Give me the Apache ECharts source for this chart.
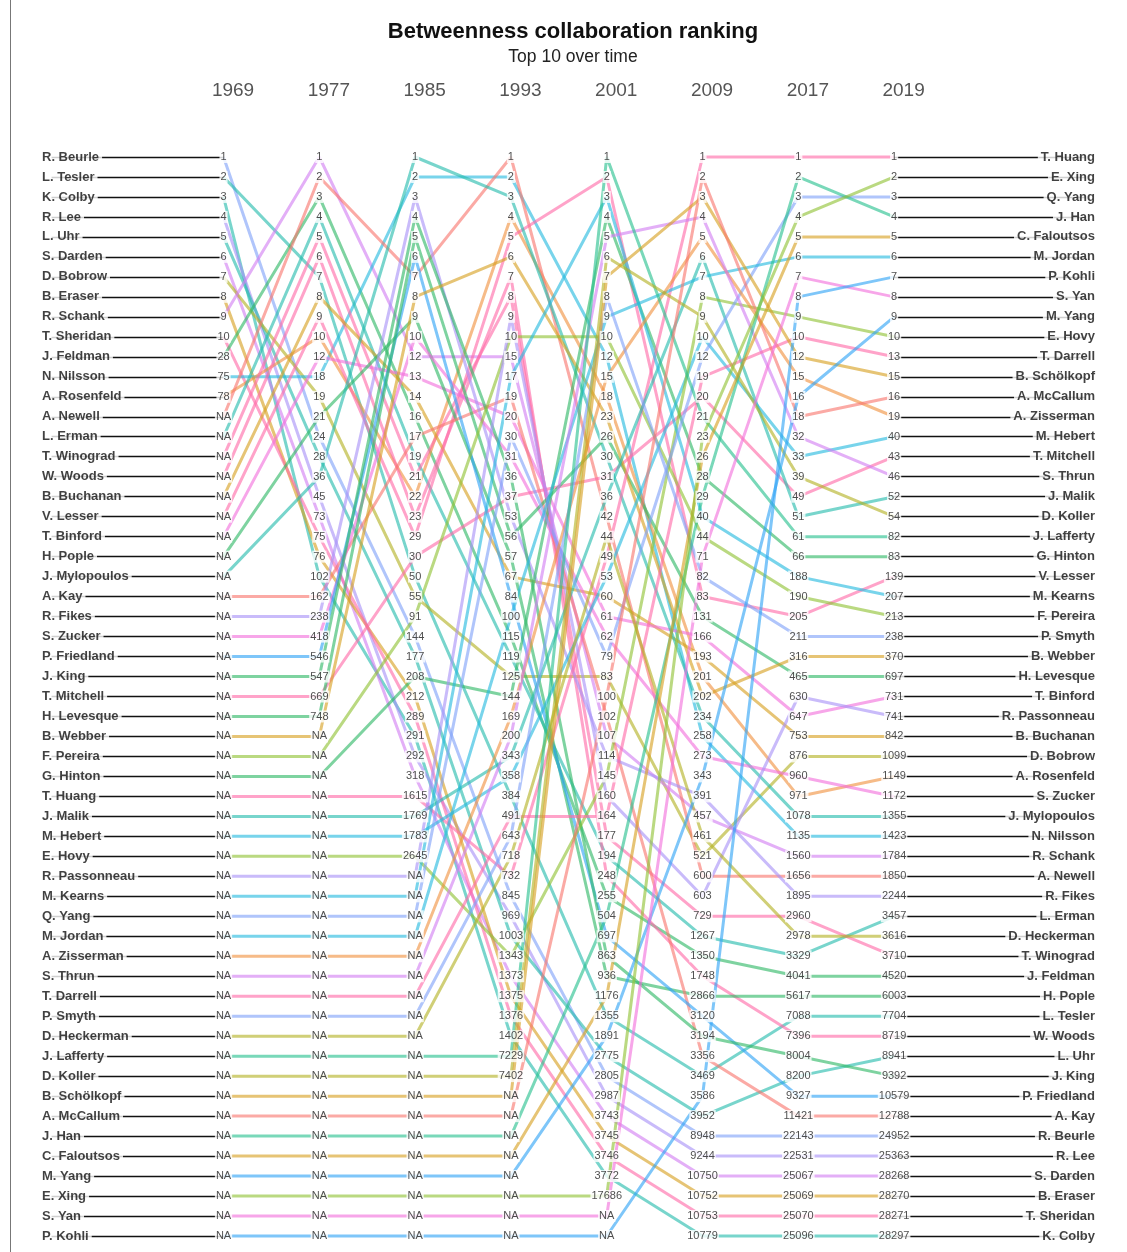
<!DOCTYPE html>
<html>
<head>
<meta charset="utf-8">
<script src="https://cdn.jsdelivr.net/npm/echarts@6/dist/echarts.min.js"></script>
<style>
  html, body { margin: 0; padding: 0; background: #fff; }
  #chart { width: 1127px; height: 1252px; }
</style>
</head>
<body>
<div id="chart"></div>
<script>
// column headers
const years = ['1969', '1977', '1985', '1993', '2001', '2009', '2017', '2019']

// people, in the order of the left-hand list
const names = [
  'R. Beurle', 'L. Tesler', 'K. Colby', 'R. Lee', 'L. Uhr', 'S. Darden', 'D. Bobrow', 'B. Eraser', 'R. Schank', 'T. Sheridan',
  'J. Feldman', 'N. Nilsson', 'A. Rosenfeld', 'A. Newell', 'L. Erman', 'T. Winograd', 'W. Woods', 'B. Buchanan', 'V. Lesser', 'T. Binford',
  'H. Pople', 'J. Mylopoulos', 'A. Kay', 'R. Fikes', 'S. Zucker', 'P. Friedland', 'J. King', 'T. Mitchell', 'H. Levesque', 'B. Webber',
  'F. Pereira', 'G. Hinton', 'T. Huang', 'J. Malik', 'M. Hebert', 'E. Hovy', 'R. Passonneau', 'M. Kearns', 'Q. Yang', 'M. Jordan',
  'A. Zisserman', 'S. Thrun', 'T. Darrell', 'P. Smyth', 'D. Heckerman', 'J. Lafferty', 'D. Koller', 'B. Schölkopf', 'A. McCallum', 'J. Han',
  'C. Faloutsos', 'M. Yang', 'E. Xing', 'S. Yan', 'P. Kohli'
]

const NA = null

// betweenness rank per year, same order as names (NA = not ranked)
const rank1969 = [
  1, 2, 3, 4, 5, 6, 7, 8, 9, 10,
  28, 75, 78, NA, NA, NA, NA, NA, NA, NA,
  NA, NA, NA, NA, NA, NA, NA, NA, NA, NA,
  NA, NA, NA, NA, NA, NA, NA, NA, NA, NA,
  NA, NA, NA, NA, NA, NA, NA, NA, NA, NA,
  NA, NA, NA, NA, NA
]
const rank1977 = [
  24, 7, 102, 45, 28, 73, 19, 76, 1, 75,
  3, 18, 10, 2, 4, 5, 6, 8, 9, 12,
  21, 36, 162, 238, 418, 546, 547, 669, 748, NA,
  NA, NA, NA, NA, NA, NA, NA, NA, NA, NA,
  NA, NA, NA, NA, NA, NA, NA, NA, NA, NA,
  NA, NA, NA, NA, NA
]
const rank1985 = [
  144, 50, 291, 292, 177, 318, 55, 212, 12, 289,
  16, 2, 22, 7, 19, 21, 23, 14, 29, 13,
  9, 1, 17, 3, 10, 6, 4, 30, 5, 8,
  91, 208, 1615, 1769, 1783, 2645, NA, NA, NA, NA,
  NA, NA, NA, NA, NA, NA, NA, NA, NA, NA,
  NA, NA, NA, NA, NA
]
const rank1993 = [
  845, 384, 1402, 969, 1003, 1373, 125, 1375, 15, 1376,
  115, 2, 4, 1, 119, 8, 7, 67, 5, 20,
  57, 3, 19, 53, 31, 84, 36, 37, 56, 6,
  10, 144, 732, 343, 358, 1343, 9, 17, 30, 100,
  169, 200, 491, 643, 718, 7229, 7402, NA, NA, NA,
  NA, NA, NA, NA, NA
]
const rank2001 = [
  2805, 1355, 3772, 2987, 2775, 3743, 83, 3745, 107, 3746,
  255, 12, 18, 42, 194, 177, 248, 60, 2, 61,
  936, 30, 102, 114, 62, 697, 863, 31, 26, 23,
  10, 4, 49, 36, 53, 145, 160, 3, 79, 9,
  15, 5, 164, 8, 44, 1, 6, 7, 100, 504,
  1176, 1891, 17686, NA, NA
]
const rank2009 = [
  8948, 3469, 10779, 9244, 3952, 10750, 521, 10752, 457, 10753,
  1350, 258, 201, 600, 1267, 729, 1748, 193, 83, 166,
  2866, 234, 3356, 391, 273, 3120, 3194, 20, 131, 202,
  44, 28, 1, 6, 10, 8, 603, 40, 12, 7,
  5, 4, 19, 82, 461, 21, 9, 3, 2, 29,
  26, 343, 23, 71, 3586
]
const rank2017 = [
  22143, 7088, 25096, 22531, 8200, 25067, 876, 25069, 1560, 25070,
  4041, 1135, 971, 1656, 3329, 2960, 7396, 753, 205, 647,
  5617, 1078, 11421, 1895, 960, 9327, 8004, 49, 465, 316,
  190, 66, 1, 51, 33, 9, 630, 188, 3, 6,
  15, 32, 10, 211, 2978, 61, 39, 12, 18, 2,
  5, 16, 4, 7, 8
]
const rank2019 = [
  24952, 7704, 28297, 25363, 8941, 28268, 1099, 28270, 1784, 28271,
  4520, 1423, 1149, 1850, 3457, 3710, 8719, 842, 139, 731,
  6003, 1355, 12788, 2244, 1172, 10579, 9392, 43, 697, 370,
  213, 83, 1, 52, 40, 10, 741, 207, 3, 6,
  19, 46, 13, 238, 3616, 82, 54, 15, 16, 4,
  5, 9, 2, 8, 7
]

const ranks = [rank1969, rank1977, rank1985, rank1993, rank2001, rank2009, rank2017, rank2019]

// line colour of each person (same order as names)
const palette = {
  pink: '#ff6aa8', salmon: '#f8766d', orange: '#f0913f', gold: '#d6a020', olive: '#b3b224',
  ygreen: '#8fc234', green: '#2fb865', tgreen: '#27c08e', teal: '#25bcad', cyan: '#25b9de',
  blue: '#2ea3f6', lblue: '#7fa2f8', lav: '#a892f7', violet: '#d27ef2', magenta: '#f26fdc'
}
const personColor = [
  'lblue', 'teal', 'teal', 'lav', 'teal', 'violet', 'olive', 'gold', 'violet', 'pink',
  'green', 'cyan', 'orange', 'salmon', 'teal', 'pink', 'pink', 'gold', 'pink', 'magenta',
  'green', 'teal', 'salmon', 'lav', 'magenta', 'blue', 'green', 'pink', 'green', 'gold',
  'ygreen', 'green', 'pink', 'teal', 'cyan', 'ygreen', 'lav', 'cyan', 'lblue', 'cyan',
  'orange', 'violet', 'pink', 'lblue', 'olive', 'tgreen', 'olive', 'gold', 'salmon', 'tgreen',
  'gold', 'blue', 'ygreen', 'magenta', 'blue'
]

// row of every person within one column: sorted by rank, NA last, ties kept in list order
function columnRows(col) {
  const order = names.map((_, i) => i)
  order.sort((a, b) => {
    const ra = col[a], rb = col[b]
    if (ra == null && rb == null) return a - b
    if (ra == null) return 1
    if (rb == null) return -1
    return ra - rb || a - b
  })
  const rows = []
  order.forEach((p, r) => { rows[p] = r })
  return rows
}

const rows = ranks.map(columnRows)
const lastCol = years.length - 1
const X_LEFT = -1.895   // left edge of the plot (where names start)
const X_RIGHT = 9.097   // right edge of the plot (where right names end)
const font = "'Liberation Sans', Arial, sans-serif"

const series = []

// one coloured line per person across the year columns
names.forEach((name, i) => {
  series.push({
    type: 'line',
    name: name,
    silent: true,
    symbol: 'none',
    z: 2,
    lineStyle: { color: palette[personColor[i]], width: 3, opacity: 0.62 },
    data: years.map((_, c) => [c, rows[c][i]])
  })
})

// black connectors from the names to the first / last column
series.push({
  type: 'lines',
  coordinateSystem: 'cartesian2d',
  silent: true,
  z: 1,
  lineStyle: { color: '#111', width: 1.4, opacity: 1 },
  data: names.map((_, i) => ({ coords: [[X_LEFT + 0.1, rows[0][i]], [0, rows[0][i]]] }))
    .concat(names.map((_, i) => ({ coords: [[lastCol, rows[lastCol][i]], [X_RIGHT - 0.1, rows[lastCol][i]]] })))
})

// rank labels at every column
const labelPoints = []
ranks.forEach((col, c) => {
  col.forEach((v, i) => {
    labelPoints.push({ value: [c, rows[c][i]], txt: v == null ? 'NA' : String(v) })
  })
})
series.push({
  type: 'scatter',
  silent: true,
  symbolSize: 0,
  z: 5,
  data: labelPoints,
  label: {
    show: true,
    position: 'inside',
    formatter: p => p.data.txt,
    fontFamily: font,
    fontSize: 11,
    color: '#222',
    backgroundColor: '#fff',
    padding: [1, 1, 0, 1]
  }
})

// left names (list order) and right names (2019 order)
series.push({
  type: 'scatter',
  silent: true,
  symbolSize: 0,
  z: 6,
  data: names.map((n, i) => ({ value: [X_LEFT, rows[0][i]], txt: n })),
  label: {
    show: true,
    position: 'right',
    distance: 0,
    formatter: p => p.data.txt,
    fontFamily: font,
    fontSize: 13,
    fontWeight: 'bold',
    color: '#111',
    backgroundColor: '#fff',
    padding: [1, 3, 1, 0]
  }
})
series.push({
  type: 'scatter',
  silent: true,
  symbolSize: 0,
  z: 6,
  data: names.map((n, i) => ({ value: [X_RIGHT, rows[lastCol][i]], txt: n })),
  label: {
    show: true,
    position: 'left',
    distance: 0,
    formatter: p => p.data.txt,
    fontFamily: font,
    fontSize: 13,
    fontWeight: 'bold',
    color: '#111',
    backgroundColor: '#fff',
    padding: [1, 0, 1, 3]
  }
})

const chart = echarts.init(document.getElementById('chart'), null, { renderer: 'canvas' })
chart.setOption({
  animation: false,
  backgroundColor: '#fff',
  textStyle: { fontFamily: font },
  title: {
    text: 'Betweenness collaboration ranking',
    subtext: 'Top 10 over time',
    left: 568,
    textAlign: 'center',
    top: 16,
    itemGap: 5,
    textStyle: { fontFamily: font, fontSize: 22, fontWeight: 'bold', color: '#111' },
    subtextStyle: { fontFamily: font, fontSize: 17.5, color: '#222' }
  },
  // thin frame line on the left edge of the page
  graphic: [{
    type: 'line',
    silent: true,
    shape: { x1: 10.5, y1: 0, x2: 10.5, y2: 1252 },
    style: { stroke: '#777', lineWidth: 1 }
  }],
  grid: { left: 42, right: 32, top: 147, bottom: 6 },
  xAxis: {
    type: 'value',
    position: 'top',
    min: X_LEFT,
    max: X_RIGHT,
    axisLine: { show: false },
    axisTick: { show: false },
    splitLine: { show: false },
    axisLabel: {
      customValues: years.map((_, c) => c),
      formatter: v => years[Math.round(v)],
      fontFamily: font,
      fontSize: 19,
      color: '#555',
      margin: 47,
      padding: [0, 0, 0, 19]
    }
  },
  yAxis: {
    type: 'value',
    inverse: true,
    min: -0.5,
    max: 54.5,
    show: false
  },
  series: series
})
</script>
</body>
</html>
